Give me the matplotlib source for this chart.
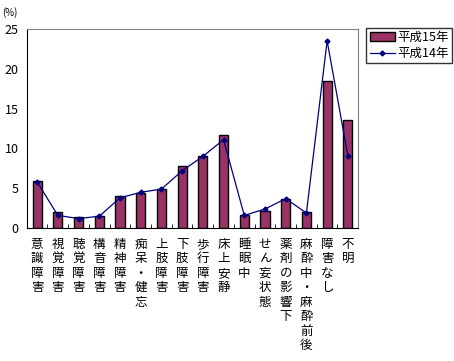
import matplotlib.pyplot as plt
import numpy as np

plt.rcParams['font.family'] = ['Noto Sans CJK JP', 'DejaVu Sans']

categories = ['意識障害', '視覚障害', '聴覚障害', '構音障害', '精神障害', '痴呆・健忘',
              '上肢障害', '下肢障害', '歩行障害', '床上安静', '睡眠中', 'せん妄状態',
              '薬剤の影響下', '麻酔中・麻酔前後', '障害なし', '不明']
h15 = [5.9, 2.0, 1.4, 1.5, 4.0, 4.4, 4.9, 7.8, 9.1, 11.7, 1.7, 2.2, 3.6, 2.0, 18.5, 13.6]
h14 = [5.8, 1.6, 1.2, 1.5, 3.8, 4.5, 4.9, 7.2, 9.0, 11.1, 1.6, 2.4, 3.7, 1.9, 23.5, 9.1]

fig = plt.figure(figsize=(4.54, 3.61), dpi=100)
ax = fig.add_axes([0.059, 0.368, 0.730, 0.552])

x = np.arange(len(categories))
bars = ax.bar(x, h15, width=0.44, color='#993366', edgecolor='black', linewidth=1,
              label='平成15年', zorder=2)
line, = ax.plot(x, h14, color='#000080', lw=0.9, marker='D', ms=2.5, label='平成14年',
                zorder=3)

ax.set_xlim(-0.5, len(categories) - 0.5)
ax.set_ylim(0, 25)
ax.set_yticks(range(0, 26, 5))
ax.tick_params(axis='y', length=0, labelsize=9, pad=6)

ax.set_xticks(np.arange(-0.5, len(categories), 1.0), minor=True)
ax.set_xticks(x)
ax.set_xticklabels(['\n'.join(c) for c in categories], fontsize=9, linespacing=1.15,
                   va='top')
ax.tick_params(axis='x', which='major', length=0, pad=7)
ax.tick_params(axis='x', which='minor', direction='in', length=3, color='black')

ax.spines['top'].set_color('#808080')
ax.spines['right'].set_color('#808080')

fig.text(0.005, 0.965, '(%)', fontsize=7, va='center')

ax.legend([bars, line], ['平成15年', '平成14年'], loc='upper left',
          bbox_to_anchor=(1.025, 1.005), frameon=True, fancybox=False,
          edgecolor='black', fontsize=9, handlelength=2.0, borderpad=0.25,
          labelspacing=0.25, handletextpad=0.25, borderaxespad=0)

fig.savefig('out.png', dpi=100)
